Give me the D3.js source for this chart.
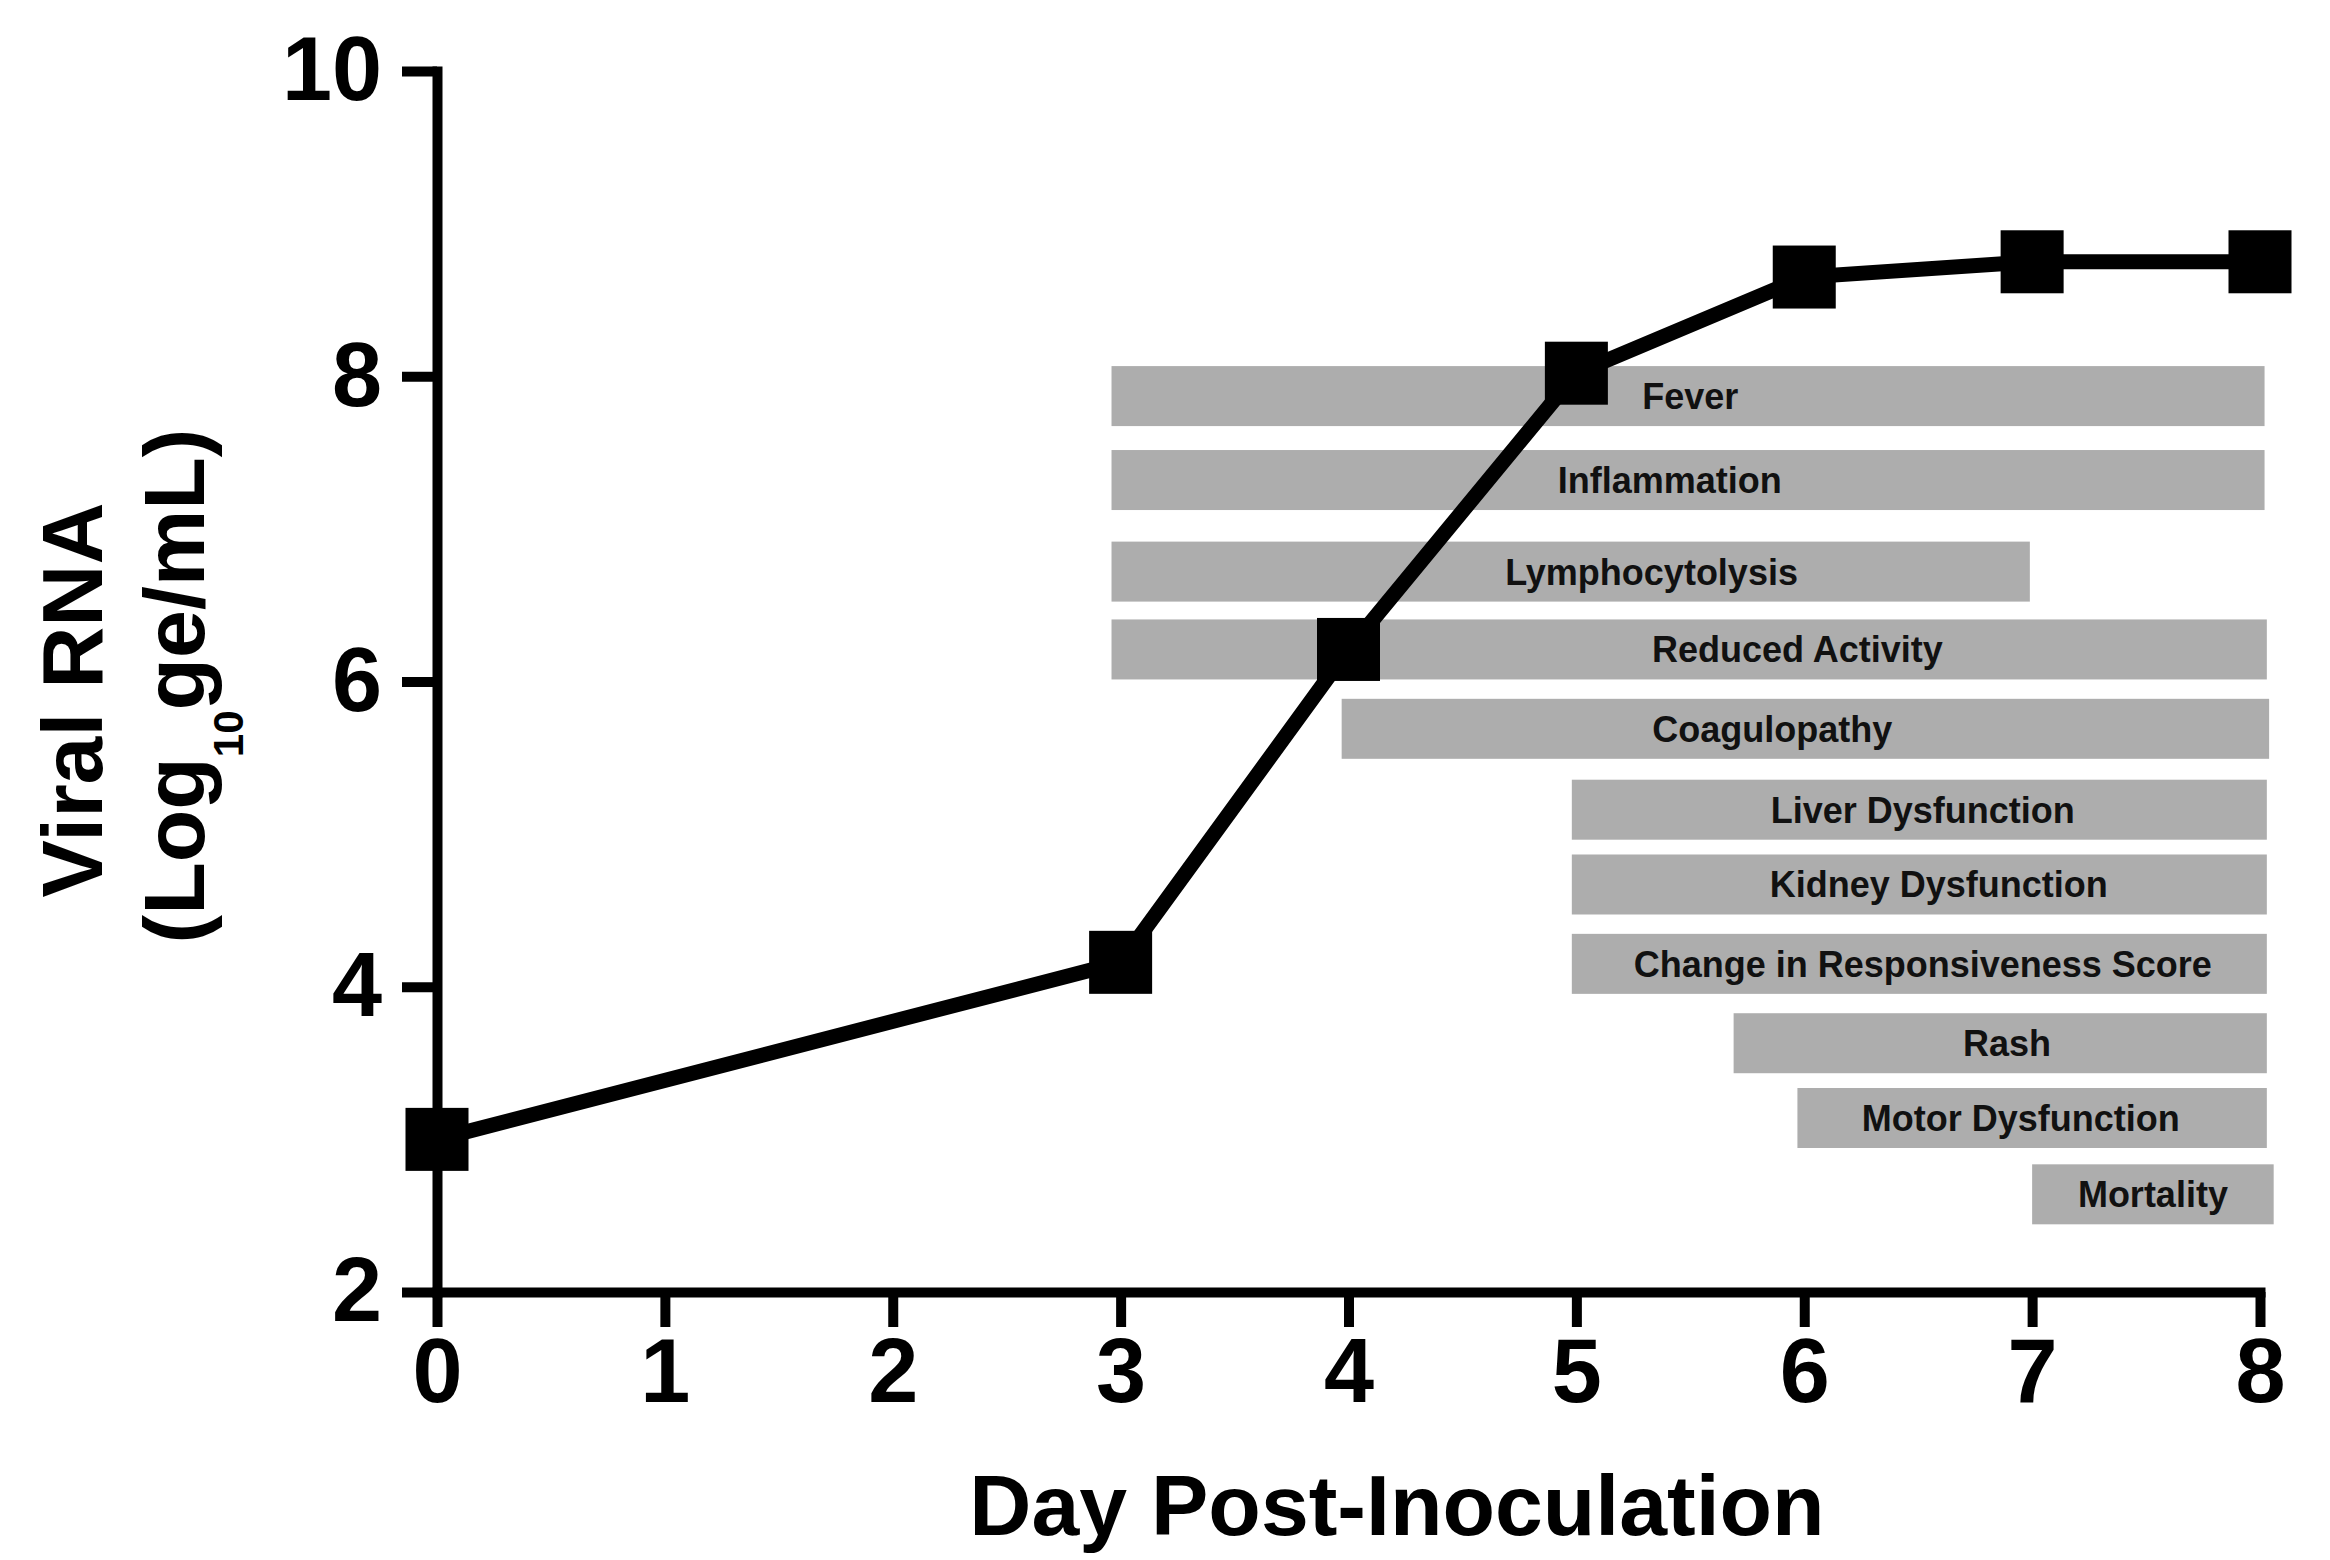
<!DOCTYPE html>
<html>
<head>
<meta charset="utf-8">
<script src="https://cdn.jsdelivr.net/npm/d3@7"></script>
<style>
  body { margin: 0; background: #fff; }
  svg text { font-family: "Liberation Sans", Arial, sans-serif; font-weight: bold; }
</style>
</head>
<body>
<svg id="chart"></svg>
<script>
// viral load by day
const days = [0, 3, 4, 5, 6, 7, 8];
const viralRNA = [3.0, 4.16, 6.21, 8.02, 8.65, 8.75, 8.75];

// clinical signs (start / end in days, level on the y axis)
const symptoms = ['Fever', 'Inflammation', 'Lymphocytolysis', 'Reduced Activity', 'Coagulopathy',
    'Liver Dysfunction', 'Kidney Dysfunction', 'Change in Responsiveness Score', 'Rash',
    'Motor Dysfunction', 'Mortality'];
const symptomStart = [2.96, 2.96, 2.96, 2.96, 3.97, 4.98, 4.98, 4.98, 5.69, 5.97, 7.0];
const symptomEnd = [8.02, 8.02, 6.99, 8.03, 8.04, 8.03, 8.03, 8.03, 8.03, 8.03, 8.06];
const symptomLevel = [7.87, 7.32, 6.72, 6.21, 5.69, 5.16, 4.67, 4.15, 3.63, 3.14, 2.64];
const labelDay = [5.50, 5.41, 5.33, 5.97, 5.86, 6.52, 6.59, 6.52, 6.89, 6.95, 7.53];

// ticks
const xTicks = [0, 1, 2, 3, 4, 5, 6, 7, 8];
const yTicks = [2, 4, 6, 8, 10];

const width = 2330, height = 1560;
const svg = d3.select('#chart').attr('width', width).attr('height', height);

const x = d3.scaleLinear([0, 8], [437, 2260]);
const y = d3.scaleLinear([2, 10], [1292, 71]);

const points = days.map((d, i) => ({ day: d, value: viralRNA[i] }));
const bars = symptoms.map((s, i) => ({
    name: s, start: symptomStart[i], end: symptomEnd[i], level: symptomLevel[i], labelAt: labelDay[i]
}));

// symptom bars
const barH = 60;
const barG = svg.append('g').attr('class', 'bars');
barG.selectAll('rect').data(bars).join('rect')
    .attr('x', d => x(d.start))
    .attr('y', d => y(d.level) - barH / 2)
    .attr('width', d => x(d.end) - x(d.start))
    .attr('height', barH)
    .style('fill', '#adadad');
barG.selectAll('text').data(bars).join('text')
    .attr('x', d => x(d.labelAt))
    .attr('y', d => y(d.level))
    .attr('dy', '0.36em')
    .attr('text-anchor', 'middle')
    .style('font-size', '36px')
    .style('fill', '#111')
    .text(d => d.name);

// axes
const xAxis = d3.axisBottom(x).tickValues(xTicks).tickFormat(d3.format('d'))
    .tickSize(35).tickSizeOuter(0).tickPadding(11);
const yAxis = d3.axisLeft(y).tickValues(yTicks).tickFormat(d3.format('d'))
    .tickSize(35).tickSizeOuter(0).tickPadding(20);

const xAxisDraw = svg.append('g').attr('transform', `translate(0,${y(2)})`).call(xAxis);
const yAxisDraw = svg.append('g').attr('transform', `translate(${x(0)},0)`).call(yAxis);

[xAxisDraw, yAxisDraw].forEach(g => {
    g.select('.domain').attr('stroke', '#000').attr('stroke-width', 10).attr('stroke-linecap', 'square');
    g.selectAll('.tick line').attr('stroke', '#000').attr('stroke-width', 10);
    g.selectAll('.tick text').style('font-size', '90px').style('fill', '#000');
});

// viral RNA line + square markers
const line = d3.line().x(d => x(d.day)).y(d => y(d.value));
svg.append('path').datum(points)
    .attr('d', line)
    .attr('fill', 'none')
    .attr('stroke', '#000')
    .attr('stroke-width', 15)
    .attr('stroke-linejoin', 'miter');
const mk = 63;
svg.append('g').selectAll('rect').data(points).join('rect')
    .attr('x', d => x(d.day) - mk / 2)
    .attr('y', d => y(d.value) - mk / 2)
    .attr('width', mk).attr('height', mk)
    .style('fill', '#000');

// axis titles
svg.append('text')
    .attr('x', 1397).attr('y', 1535)
    .attr('text-anchor', 'middle')
    .style('font-size', '86px')
    .text('Day Post-Inoculation');

svg.append('text')
    .attr('transform', 'translate(102,700) rotate(-90)')
    .attr('text-anchor', 'middle')
    .style('font-size', '86px')
    .text('Viral RNA');

const yt2 = svg.append('text')
    .attr('transform', 'translate(204,686) rotate(-90)')
    .attr('text-anchor', 'middle')
    .style('font-size', '86px');
yt2.append('tspan').text('(Log');
yt2.append('tspan').attr('dy', 39).style('font-size', '42px').text('10');
yt2.append('tspan').attr('dy', -39).text('ge/mL)');
</script>
</body>
</html>
